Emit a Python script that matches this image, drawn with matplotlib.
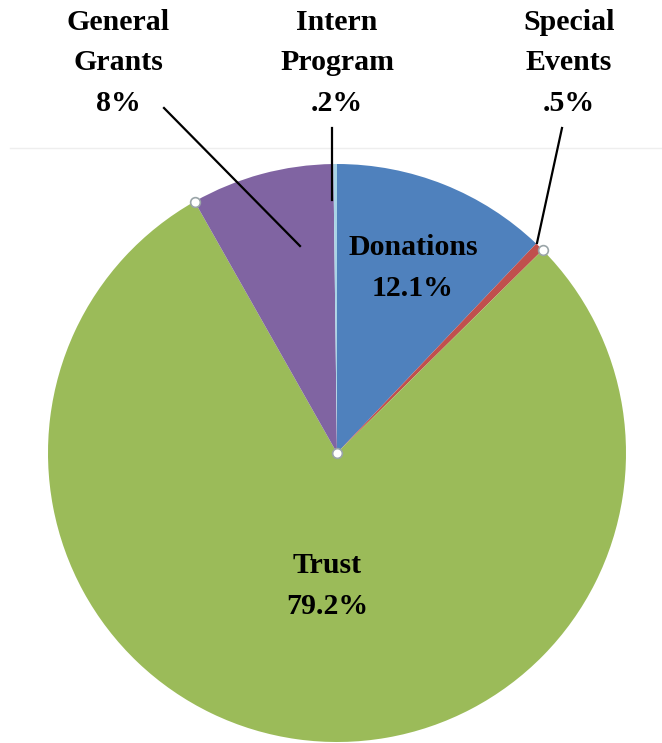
import matplotlib
matplotlib.use("Agg")
import matplotlib.pyplot as plt
import numpy as np

categories = ["Donations", "Special Events", "Trust", "General Grants", "Intern Program"]
values = [12.1, 0.5, 79.2, 8.0, 0.2]
value_labels = ["12.1%", ".5%", "79.2%", "8%", ".2%"]
colors = ["#4F81BD", "#C0504D", "#9BBB59", "#8064A2", "#A9D4E6"]

W, H = 662, 743
fig = plt.figure(figsize=(W / 100, H / 100), dpi=100)
ax = fig.add_axes([0, 0, 1, 1])

cx, cy, R = 337, H - 453, 289
wedges, _ = ax.pie(values, colors=colors, startangle=90, counterclock=False,
                   center=(cx, cy), radius=R, frame=True,
                   wedgeprops=dict(linewidth=0.6, edgecolor="none"))
ax.set_xlim(0, W)
ax.set_ylim(0, H)
ax.set_aspect("equal")
ax.axis("off")

# faint chart-area border line
ax.plot([10, W], [H - 148, H - 148], color="#eeeeee", lw=1, zorder=0)

font = dict(family=["Liberation Serif", "DejaVu Serif"], fontweight="bold",
            fontsize=21.5, color="black", ha="center", va="center", linespacing=1.62)

def P(x, y):
    return (x, H - y)

# inside labels
ax.text(*P(413, 268), f"{categories[0]}\n{value_labels[0]}", **font)
ax.text(*P(327, 586), f"{categories[2]}\n{value_labels[2]}", **font)

# outside labels
ax.text(*P(118, 63), "General\nGrants\n" + value_labels[3], **font)
ax.text(*P(337, 63), "Intern\nProgram\n" + value_labels[4], **font)
ax.text(*P(569, 63), "Special\nEvents\n" + value_labels[1], **font)

# leader lines
for (x0, y0), (x1, y1) in [((164, 108), (300, 246)),
                           ((332, 128), (332, 200)),
                           ((562, 128), (537, 243))]:
    ax.plot([x0, x1], [H - y0, H - y1], color="black", lw=1.6, zorder=5)

# vertex handles (from cumulative angles)
cum = np.cumsum([0] + values)
angles = 90 - cum / 100 * 360
pts = [(cx, cy)]
for a in [angles[2], angles[3]]:
    pts.append((cx + R * np.cos(np.radians(a)), cy + R * np.sin(np.radians(a))))
for x, y in pts:
    ax.plot(x, y, marker="o", ms=7, mfc="white", mec="#9aa5a8", mew=1.2, zorder=6)

fig.savefig("out.png", dpi=100)
